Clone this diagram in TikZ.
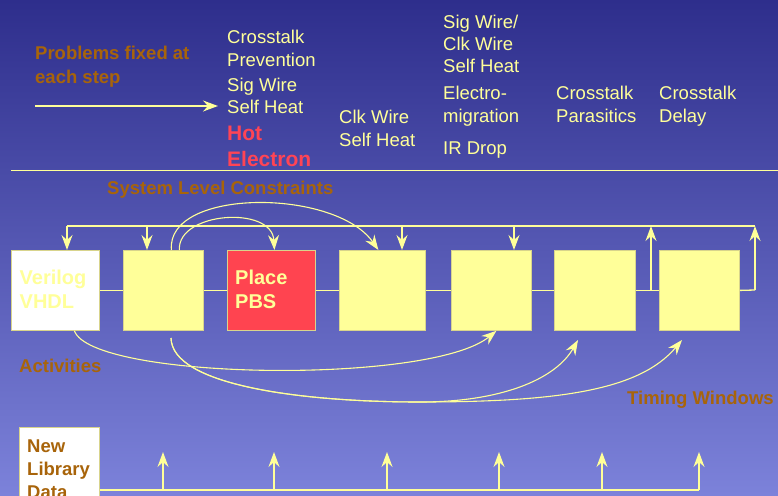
\documentclass[tikz,border=0pt]{standalone}
\usepackage{fontspec}
\setmainfont{Liberation Sans}
\usetikzlibrary{arrows.meta}
\definecolor{ly}{HTML}{FFFF99}
\definecolor{brn}{HTML}{A8640A}
\definecolor{hot}{HTML}{FF4455}
\definecolor{boxred}{HTML}{FF4450}
\definecolor{bgtop}{HTML}{2E2E8C}
\definecolor{bgbot}{HTML}{7C82DA}
\definecolor{edge}{HTML}{D8D48C}
\begin{document}
\begin{tikzpicture}[x=1pt,y=-1pt,
  conn/.style={draw=ly, line width=1.3pt},
  curve/.style={draw=ly, line width=1.1pt},
  tipped/.style={-{Stealth[length=15pt,width=11pt,inset=5pt]}},
  stepbox/.style={draw=edge, line width=0.8pt, fill=ly, anchor=north west, inner sep=0pt, minimum height=80pt},
  lbl/.style={anchor=base west, inner sep=0pt, text=ly, font=\fontsize{18.5}{22}\selectfont},
  blbl/.style={anchor=base west, inner sep=0pt, text=brn, font=\fontsize{18.5}{22}\selectfont\bfseries},
  hlbl/.style={anchor=base west, inner sep=0pt, text=hot, font=\fontsize{21}{24}\selectfont\bfseries},
  wlbl/.style={anchor=base west, inner sep=0pt, text=ly, font=\fontsize{20}{24}\selectfont\bfseries}
]
\useasboundingbox (0,0) rectangle (778,495);
\shade[top color=bgtop, bottom color=bgbot] (0,0) rectangle (778,495);

% header texts
\node[blbl] (pf1) at (35,59.5) {Problems fixed at};
\node[blbl] (pf2) at (35,83.5) {each step};
\node[lbl] (c1a) at (227,43.5) {Crosstalk};
\node[lbl] (c1b) at (227,66.5) {Prevention};
\node[lbl] (c1c) at (227,91) {Sig Wire};
\node[lbl] (c1d) at (227,113.5) {Self Heat};
\node[hlbl] (c1e) at (227,140.5) {Hot};
\node[hlbl] (c1f) at (227,166.5) {Electron};
\node[lbl] (c2a) at (339,123.5) {Clk Wire};
\node[lbl] (c2b) at (339,146.5) {Self Heat};
\node[lbl] (c3a) at (443,28.5) {Sig Wire/};
\node[lbl] (c3b) at (443,50.5) {Clk Wire};
\node[lbl] (c3c) at (443,72.5) {Self Heat};
\node[lbl] (c3d) at (443,99.5) {Electro-};
\node[lbl] (c3e) at (443,122.5) {migration};
\node[lbl] (c3f) at (443,154.5) {IR Drop};
\node[lbl] (c4a) at (556,99.5) {Crosstalk};
\node[lbl] (c4b) at (556,122.5) {Parasitics};
\node[lbl] (c5a) at (659,99.5) {Crosstalk};
\node[lbl] (c5b) at (659,122.5) {Delay};

\coordinate (pa) at (35,106);
\coordinate (pb) at (218,106);
\draw[conn,tipped] (pa) -- (pb);

\coordinate (s0) at (11,170.5);
\coordinate (s1) at (778,170.5);
\draw[conn] (s0) -- (s1);

\node[blbl] (slc) at (107,194.5) {System Level Constraints};

% boxes
\node[stepbox, fill=white, minimum width=88pt] (b1) at (11,250) {};
\node[stepbox, minimum width=80pt] (b2) at (123,250) {};
\node[stepbox, fill=boxred, minimum width=88pt] (b3) at (227,250) {};
\node[stepbox, minimum width=86pt] (b4) at (339,250) {};
\node[stepbox, minimum width=80pt] (b5) at (451,250) {};
\node[stepbox, minimum width=81pt] (b6) at (554,250) {};
\node[stepbox, minimum width=80pt] (b7) at (659,250) {};

\node[wlbl] (v1) at (19.5,284) {Verilog};
\node[wlbl] (v2) at (19.5,308) {VHDL};
\node[wlbl] (p1) at (235,284) {Place};
\node[wlbl] (p2) at (235,308) {PBS};

% chain
\draw[conn] (b1.east) -- (b2.west);
\draw[conn] (b2.east) -- (b3.west);
\draw[conn] (b3.east) -- (b4.west);
\draw[conn] (b4.east) -- (b5.west);
\draw[conn] (b5.east) -- (b6.west);
\draw[conn] (b6.east) -- (b7.west);

% feedback line
\coordinate (f1) at (67,226);
\coordinate (f2) at (147,226);
\coordinate (f4) at (402,226);
\coordinate (f5) at (514,226);
\coordinate (u6) at (651,226);
\coordinate (u7) at (755,226);
\coordinate (j6) at (651,290);
\coordinate (j7) at (755,290);
\draw[conn] (f1) -- (u7);
\draw[conn,tipped] (f1) -- (f1 |- b1.north);
\draw[conn,tipped] (f2) -- (f2 |- b2.north);
\draw[conn,tipped] (f4) -- (f4 |- b4.north);
\draw[conn,tipped] (f5) -- (f5 |- b5.north);
\draw[conn,tipped] (j6) -- (u6);
\draw[conn] (b7.east) -- (j7);
\draw[conn,tipped] (j7) -- (u7);

% top curves
\draw[curve,tipped] ([xshift=8pt]b2.north) .. controls (166,188) and (335,188) .. ([xshift=-4pt]b4.north);
\draw[curve,tipped] ([xshift=16pt]b2.north) .. controls (177,212) and (272,205) .. ([xshift=3pt]b3.north);

% bottom curves
\coordinate (s2) at (171,338);
\coordinate (m2) at (420,402);
\coordinate (t6) at (578,340);
\coordinate (t7) at (682,340);
\draw[curve,tipped] ([xshift=19pt]b1.south) .. controls (92,380) and (430,385) .. ([xshift=5pt]b5.south);
\draw[curve,tipped] (s2) .. controls (172,385) and (300,402) .. (m2) .. controls (500,402) and (555,380) .. (t6);
\draw[curve,tipped] (s2) .. controls (172,385) and (300,402) .. (m2) .. controls (560,402) and (640,390) .. (t7);

\node[blbl] (act) at (19,372.6) {Activities};
\node[blbl] (tw) at (627,404.6) {Timing Windows};

% library
\node[stepbox, fill=white, minimum width=80pt, minimum height=80pt] (lib) at (19,427) {};
\node[blbl] (n1) at (27,452.6) {New};
\node[blbl] (n2) at (27,475.6) {Library};
\node[blbl] (n3) at (27,498.6) {Data};
\coordinate (lb1) at (163,490);
\coordinate (lb2) at (274,490);
\coordinate (lb3) at (387,490);
\coordinate (lb4) at (499,490);
\coordinate (lb5) at (602,490);
\coordinate (lb6) at (699,490);
\coordinate (lt1) at (163,452);
\coordinate (lt2) at (274,452);
\coordinate (lt3) at (387,452);
\coordinate (lt4) at (499,452);
\coordinate (lt5) at (602,452);
\coordinate (lt6) at (699,452);
\draw[conn] (lib.east |- lb1) -- (lb6);
\foreach \k in {1,...,6} { \draw[conn,tipped] (lb\k) -- (lt\k); }
\end{tikzpicture}
\end{document}
